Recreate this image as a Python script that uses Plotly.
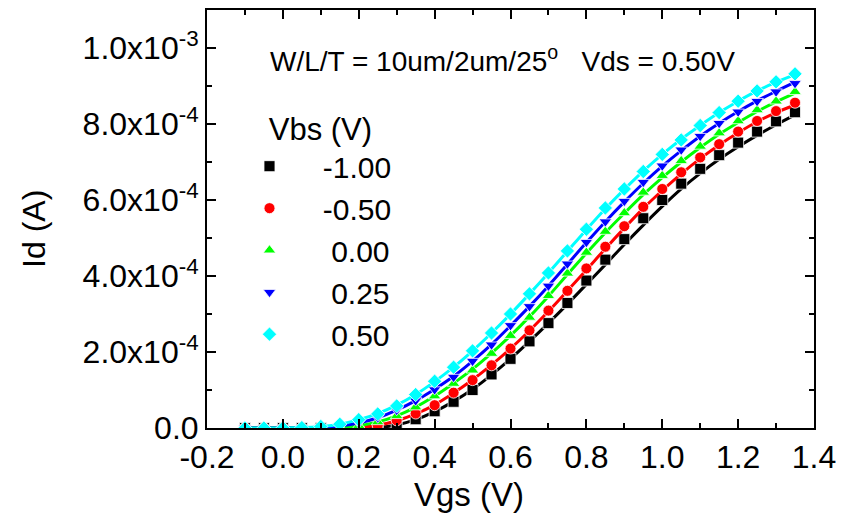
import plotly.graph_objects as go

# Gate voltage (V)
vgs = [-0.10, -0.05, 0.00, 0.05, 0.10, 0.15, 0.20, 0.25, 0.30, 0.35,
       0.40, 0.45, 0.50, 0.55, 0.60, 0.65, 0.70, 0.75, 0.80, 0.85,
       0.90, 0.95, 1.00, 1.05, 1.10, 1.15, 1.20, 1.25, 1.30, 1.35]

# Measured drain current, in units of 1e-4 A
id_m100 = [0, 0, 0, 0, 0, 0, 0, 0.01, 0.07, 0.23, 0.44, 0.69, 1.00, 1.41, 1.82, 2.28, 2.76, 3.29, 3.88, 4.43,
           4.97, 5.52, 6.00, 6.43, 6.82, 7.18, 7.51, 7.80, 8.07, 8.31]
id_m050 = [0, 0, 0, 0, 0, 0, 0.02, 0.07, 0.20, 0.38, 0.60, 0.93, 1.26, 1.65, 2.09, 2.57, 3.09, 3.61, 4.20, 4.77,
           5.31, 5.82, 6.29, 6.73, 7.12, 7.47, 7.80, 8.08, 8.34, 8.56]
id_p000 = [0, 0, 0, 0, 0, 0.02, 0.06, 0.16, 0.32, 0.55, 0.84, 1.17, 1.52, 1.96, 2.43, 2.91, 3.48, 4.07, 4.62, 5.17,
           5.66, 6.20, 6.64, 7.03, 7.41, 7.76, 8.08, 8.37, 8.60, 8.85]
id_p025 = [0, 0, 0, 0, 0.01, 0.05, 0.13, 0.27, 0.47, 0.72, 1.01, 1.34, 1.76, 2.19, 2.70, 3.20, 3.74, 4.32, 4.89, 5.43,
           5.97, 6.47, 6.90, 7.32, 7.68, 8.02, 8.32, 8.60, 8.85, 9.07]
id_p050 = [0, 0, 0, 0.01, 0.04, 0.10, 0.22, 0.37, 0.58, 0.88, 1.23, 1.60, 2.03, 2.50, 3.00, 3.53, 4.08, 4.66, 5.23, 5.79,
           6.29, 6.75, 7.20, 7.58, 7.96, 8.30, 8.60, 8.87, 9.11, 9.32]

# Model curves, in units of 1e-4 A
fit_m100 = [0, 0, 0, 0, 0, 0, 0, 0.01, 0.08, 0.22, 0.43, 0.70, 1.02, 1.40, 1.82, 2.28, 2.76, 3.26, 3.78, 4.30,
            4.83, 5.34, 5.83, 6.29, 6.70, 7.07, 7.40, 7.70, 7.98, 8.24]
fit_m050 = [0, 0, 0, 0, 0, 0, 0.02, 0.07, 0.19, 0.37, 0.61, 0.92, 1.27, 1.66, 2.09, 2.56, 3.07, 3.61, 4.16, 4.72,
            5.26, 5.78, 6.25, 6.69, 7.09, 7.45, 7.77, 8.06, 8.30, 8.50]
fit_p000 = [0, 0, 0, 0, 0, 0.02, 0.06, 0.16, 0.32, 0.55, 0.84, 1.18, 1.55, 1.97, 2.43, 2.93, 3.47, 4.04, 4.60, 5.14,
            5.65, 6.14, 6.59, 7.00, 7.38, 7.73, 8.04, 8.33, 8.58, 8.81]
fit_p025 = [0, 0, 0, 0, 0.01, 0.05, 0.13, 0.27, 0.47, 0.72, 1.02, 1.36, 1.76, 2.20, 2.69, 3.20, 3.74, 4.31, 4.88, 5.43,
            5.95, 6.44, 6.89, 7.30, 7.68, 8.02, 8.33, 8.61, 8.86, 9.10]
fit_p050 = [0, 0, 0, 0.01, 0.04, 0.10, 0.22, 0.38, 0.60, 0.88, 1.22, 1.60, 2.03, 2.50, 3.00, 3.53, 4.08, 4.65, 5.22, 5.77,
            6.28, 6.76, 7.20, 7.60, 7.96, 8.30, 8.60, 8.87, 9.10, 9.30]

labels = ["-1.00", "-0.50", "0.00", "0.25", "0.50"]
colors = ["#000000", "#ff0000", "#00ff00", "#0000ff", "#00ffff"]
symbols = ["square", "circle", "triangle-up", "triangle-down", "diamond"]
measured = [id_m100, id_m050, id_p000, id_p025, id_p050]
fits = [fit_m100, fit_m050, fit_p000, fit_p025, fit_p050]

xtick_vals = [-0.2, 0.0, 0.2, 0.4, 0.6, 0.8, 1.0, 1.2, 1.4]
xtick_text = ["-0.2", "0.0", "0.2", "0.4", "0.6", "0.8", "1.0", "1.2", "1.4"]
ytick_vals = [0, 2e-4, 4e-4, 6e-4, 8e-4, 1e-3]
ytick_text = ["0.0", "2.0x10<sup>-4</sup>", "4.0x10<sup>-4</sup>", "6.0x10<sup>-4</sup>",
              "8.0x10<sup>-4</sup>", "1.0x10<sup>-3</sup>"]

FONT = "Liberation Sans, Arial, Helvetica, sans-serif"
NB = "\u00a0"

W, H = 850, 518
L, R, T, B = 207, 36, 8, 90
PW, PH = W - L - R, H - T - B

fig = go.Figure()
for lab, col, sym, meas, fit in zip(labels, colors, symbols, measured, fits):
    fig.add_trace(go.Scatter(
        x=vgs, y=[v * 1e-4 for v in fit], mode="lines",
        line=dict(color=col, width=3, shape="spline"),
        showlegend=False, hoverinfo="skip"))
    pad = NB * 5 if not lab.startswith("-") else NB * 4
    fig.add_trace(go.Scatter(
        x=vgs, y=[v * 1e-4 for v in meas], mode="markers",
        marker=dict(symbol=sym, color=col, size=11, line=dict(color="white", width=0.8)),
        name=pad + lab))

axis_common = dict(showline=True, linewidth=2, linecolor="black", mirror="allticks",
                   ticks="inside", ticklen=9, tickwidth=2, tickcolor="black",
                   showgrid=False, zeroline=False,
                   tickfont=dict(family=FONT, size=32, color="black"))

fig.update_layout(
    width=W, height=H,
    margin=dict(l=L, r=R, t=T, b=B),
    plot_bgcolor="white", paper_bgcolor="white",
    font=dict(family=FONT, color="black"),
    xaxis=dict(range=[-0.2, 1.4], tickmode="array", tickvals=xtick_vals, ticktext=xtick_text,
               minor=dict(dtick=0.1, tick0=-0.2, ticks="inside", ticklen=5, tickwidth=2, tickcolor="black"),
               **axis_common),
    yaxis=dict(range=[0, 1.1e-3], tickmode="array", tickvals=ytick_vals, ticktext=ytick_text,
               minor=dict(dtick=1e-4, tick0=0, ticks="inside", ticklen=5, tickwidth=2, tickcolor="black"),
               **axis_common),
    legend=dict(x=0.07, y=0.785, xanchor="left", yanchor="top", bgcolor="rgba(0,0,0,0)",
                font=dict(family=FONT, size=30),
                title=dict(text=NB * 2 + "Vbs (V)", font=dict(family=FONT, size=31)),
                itemsizing="trace", tracegroupgap=0),
    annotations=[
        dict(x=0.1, y=0.883, xref="paper", yref="paper", xanchor="left", yanchor="middle",
             showarrow=False,
             text="W/L/T = 10um/2um/25<sup>o</sup>" + NB * 3 + "Vds = 0.50V",
             font=dict(family=FONT, size=28, color="black")),
        # x-axis title, centred at pixel (469, 495)
        dict(x=(469 - L) / PW, y=(H - B - 495) / PH, xref="paper", yref="paper",
             xanchor="center", yanchor="middle", showarrow=False, text="Vgs (V)",
             font=dict(family=FONT, size=33, color="black")),
        # y-axis title, centred at pixel (34, 228)
        dict(x=(34 - L) / PW, y=(H - B - 228) / PH, xref="paper", yref="paper",
             xanchor="center", yanchor="middle", showarrow=False, text="Id (A)", textangle=-90,
             font=dict(family=FONT, size=32, color="black")),
    ],
)

fig.write_html("out.html")
